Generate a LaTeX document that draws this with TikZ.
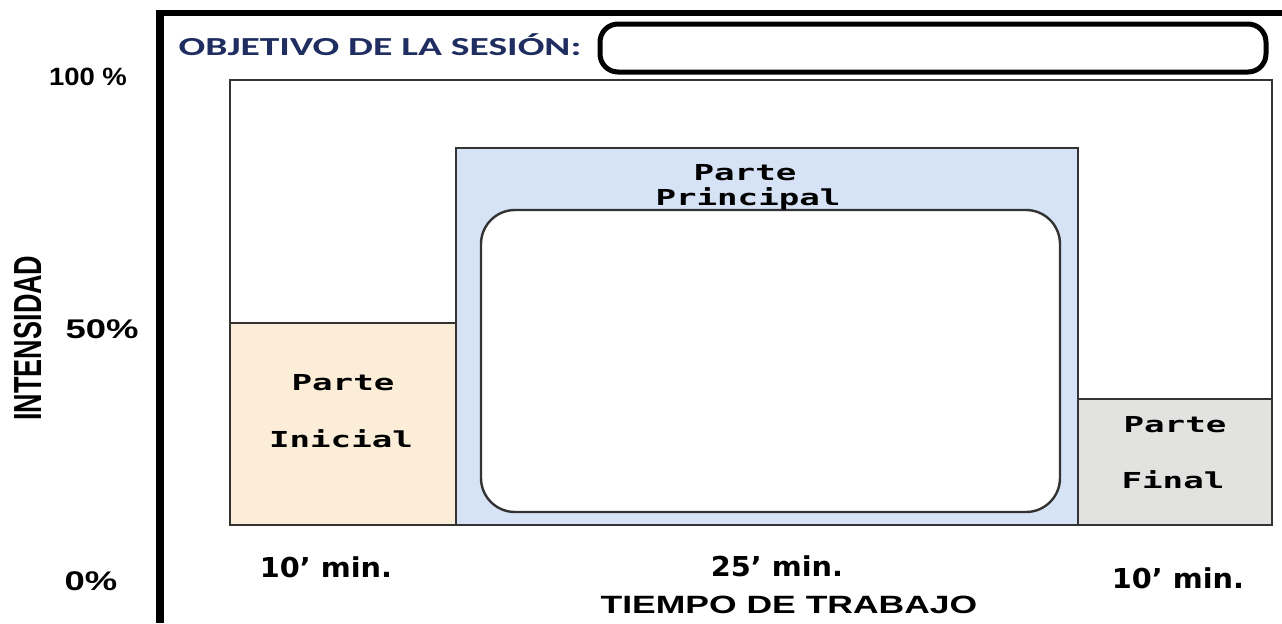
\documentclass[tikz,border=0pt]{standalone}
\usepackage{fontspec}
\usepackage{graphicx}
\setmainfont{Liberation Sans}
\newfontfamily\objfont{Carlito}
\newfontfamily\monofont{DejaVu Sans Mono}
\newfontfamily\minfont{DejaVu Sans}
\definecolor{objblue}{RGB}{31,45,96}
\definecolor{iniciofill}{RGB}{251,237,216}
\definecolor{principalfill}{RGB}{214,226,245}
\definecolor{finalfill}{RGB}{226,226,224}
\definecolor{edge}{RGB}{51,51,51}
\newcommand{\widen}[2]{\scalebox{#1}[1]{#2}}

\begin{document}
\begin{tikzpicture}[x=0.5pt,y=-0.5pt,
    bar/.style={draw=edge,line width=1pt},
    parte/.style={font=\monofont\bfseries\fontsize{11}{11}\selectfont,anchor=base,inner sep=0pt},
    minutos/.style={font=\minfont\bfseries\fontsize{13.7}{13.7}\selectfont,anchor=base,inner sep=0pt},
    pct/.style={font=\bfseries\fontsize{13.5}{13.5}\selectfont,anchor=base,inner sep=0pt}]
  \useasboundingbox (0,0) rectangle (1282,623);
  \draw[bar,fill=white] (230,80) rectangle (1272,525);
  \draw[bar,fill=iniciofill] (230,323) rectangle (456,525);
  \draw[bar,fill=principalfill] (456,148) rectangle (1078,525);
  \draw[bar,fill=finalfill] (1078,399) rectangle (1272,525);
  \draw[draw=edge,line width=1.2pt,fill=white,rounded corners=17pt] (481,210) rectangle (1060,512);
  \draw[line width=2.5pt,rounded corners=9pt] (600,24) rectangle (1266,72);
  \draw[line width=4pt] (160,623) -- (160,10);
  \draw[line width=3pt] (156,13) -- (1282,13);

  \node[anchor=base,inner sep=0pt,text=objblue,font=\objfont\bfseries\fontsize{13}{13}\selectfont]
    (objetivo) at (380,55) {\widen{1.52}{OBJETIVO DE LA SESIÓN:}};

  \node[parte] (inicialA) at (343,390) {\widen{1.55}{Parte}};
  \node[parte] (inicialB) at (341,447) {\widen{1.55}{Inicial}};
  \node[parte] (principalA) at (745,180) {\widen{1.55}{Parte}};
  \node[parte] (principalB) at (748,205) {\widen{1.55}{Principal}};
  \node[parte] (finalA) at (1175,432) {\widen{1.55}{Parte}};
  \node[parte] (finalB) at (1173,488) {\widen{1.55}{Final}};

  \node[minutos] (minA) at (326,577) {\widen{1.05}{10’ min.}};
  \node[minutos] (minB) at (777,576) {\widen{1.05}{25’ min.}};
  \node[minutos] (minC) at (1178,588) {\widen{1.05}{10’ min.}};
  \node[anchor=base,inner sep=0pt,font=\bfseries\fontsize{12.5}{12.5}\selectfont]
    (tiempo) at (789,613) {\widen{1.42}{TIEMPO DE TRABAJO}};

  \node[pct,font=\bfseries\fontsize{12.5}{12.5}\selectfont] (cien) at (88,85) {\widen{1.1}{100 \%}};
  \node[pct] (cincuenta) at (102,338) {\widen{1.35}{50\%}};
  \node[pct] (cero) at (91,590) {\widen{1.35}{0\%}};
  \node[rotate=90,inner sep=0pt,font=\bfseries\fontsize{13.5}{13.5}\selectfont]
    (intensidad) at (28,338) {\scalebox{1}[1.45]{INTENSIDAD}};
\end{tikzpicture}
\end{document}
